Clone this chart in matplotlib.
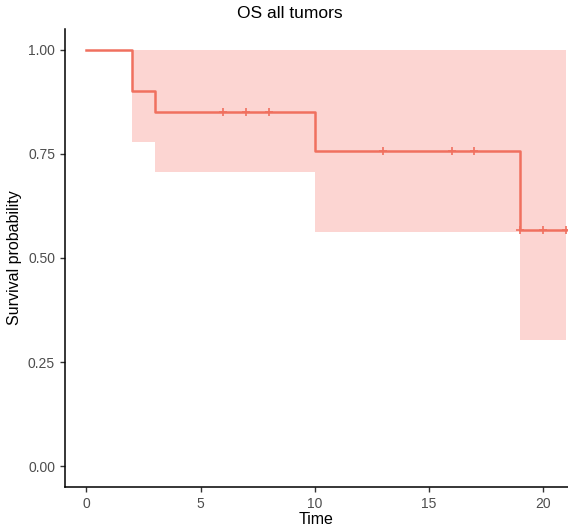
import matplotlib
matplotlib.use('Agg')
import matplotlib.pyplot as plt
import numpy as np

plt.rcParams['font.family'] = ['Liberation Sans', 'DejaVu Sans']

# Kaplan-Meier step data
times = [0, 2, 3, 10, 19, 21]
surv = [1.0, 0.90, 0.851, 0.756, 0.567, 0.567]
ci_low = [1.0, 0.779, 0.707, 0.563, 0.302, 0.302]
ci_high = [1.0, 1.0, 1.0, 1.0, 1.0, 1.0]
cens_t = [6, 7, 8, 13, 16, 17, 19, 20, 21]
cens_s = [0.851, 0.851, 0.851, 0.756, 0.756, 0.756, 0.567, 0.567, 0.567]

RED = '#F0705F'
fig = plt.figure(figsize=(5.68, 5.27), dpi=100)
ax = fig.add_axes([0.114, 0.076, 0.886, 0.869])

ax.fill_between(times, ci_low, ci_high, step='post', color='#F8766D', alpha=0.3, lw=0)
ax.step(times, surv, where='post', color=RED, lw=1.8)
ax.plot(cens_t, cens_s, ls='none', marker='+', color=RED, ms=6, mew=1.2)

ax.set_xlim(-0.95, 21.1)
ax.set_ylim(-0.05, 1.05)
ax.set_xticks([0, 5, 10, 15, 20])
ax.set_yticks([0, 0.25, 0.5, 0.75, 1.0])
ax.set_yticklabels(['0.00', '0.25', '0.50', '0.75', '1.00'])
for s in ['top', 'right']:
    ax.spines[s].set_visible(False)
for s in ['left', 'bottom']:
    ax.spines[s].set_linewidth(1.1)
ax.tick_params(labelsize=10, labelcolor='#4d4d4d', length=3.5, width=1, color='#333333')
ax.set_xlabel('Time', fontsize=11.5, labelpad=1)
ax.set_ylabel('Survival probability', fontsize=11.5, labelpad=4)
fig.text(0.51, 0.975, 'OS all tumors', fontsize=12.5, ha='center', va='center')

fig.savefig('out.png', dpi=100)
